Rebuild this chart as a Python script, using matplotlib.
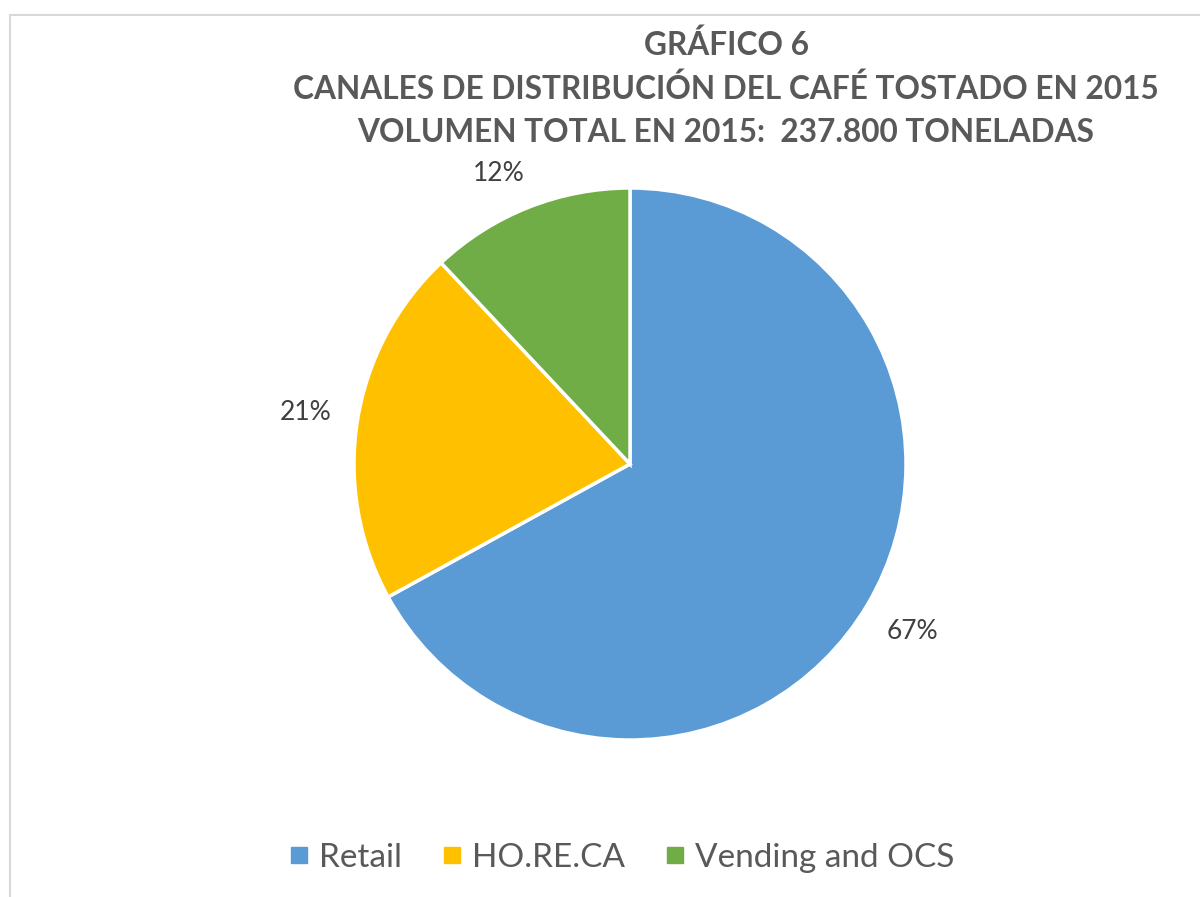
import matplotlib
matplotlib.use("Agg")
import matplotlib.pyplot as plt
from matplotlib.patches import Rectangle
from matplotlib.lines import Line2D

plt.rcParams["font.family"] = ["Lato", "DejaVu Sans"]

# data
channels = ["Retail", "HO.RE.CA", "Vending and OCS"]
shares = [67, 21, 12]
colors = ["#5b9bd5", "#ffc000", "#70ad47"]
title_lines = ["GRÁFICO 6",
               "CANALES DE DISTRIBUCIÓN DEL CAFÉ TOSTADO EN 2015",
               "VOLUMEN TOTAL EN 2015:  237.800 TONELADAS"]

W, H = 1200, 897
fig = plt.figure(figsize=(W / 100, H / 100), dpi=100)

# light chart-area border
fig.patches.append(Rectangle((10 / W, -0.1), 1.2, (H - 15) / H + 0.1,
                             transform=fig.transFigure, fill=False,
                             edgecolor="#d9d9d9", lw=1.5))

cx, cy, r = 630, 464, 276
ax = fig.add_axes([(cx - r) / W, (H - cy - r) / H, 2 * r / W, 2 * r / H])
wedges, _, autotexts = ax.pie(
    shares, colors=colors, startangle=90, counterclock=False,
    autopct=lambda p: f"{p:.0f}%", pctdistance=1.19, radius=1,
    wedgeprops=dict(edgecolor="white", linewidth=2.5))
for t in autotexts:
    t.set_fontsize(19)
    t.set_color("#404040")
# small-slice label sits a little closer, like Excel's best-fit
x, y = autotexts[2].get_position()
autotexts[2].set_position((x * 0.95 - 0.06, y * 0.95))
ax.set_xlim(-1, 1)
ax.set_ylim(-1, 1)
ax.set_aspect("equal")
ax.axis("off")

for i, line in enumerate(title_lines):
    fig.text(726 / W, 1 - (45 + 44 * i) / H, line, ha="center", va="center",
             fontsize=22.8, fontweight="bold", color="#595959")

handles = [Line2D([], [], marker="s", linestyle="none", markersize=12,
                  markerfacecolor=c, markeredgecolor=c) for c in colors]
fig.legend(handles, channels, loc="center", bbox_to_anchor=(620 / W, 1 - 858 / H),
           ncol=3, frameon=False, fontsize=24, handletextpad=0.2,
           columnspacing=1.1, labelcolor="#595959", handlelength=0.8)

fig.savefig("out.png", dpi=100)
